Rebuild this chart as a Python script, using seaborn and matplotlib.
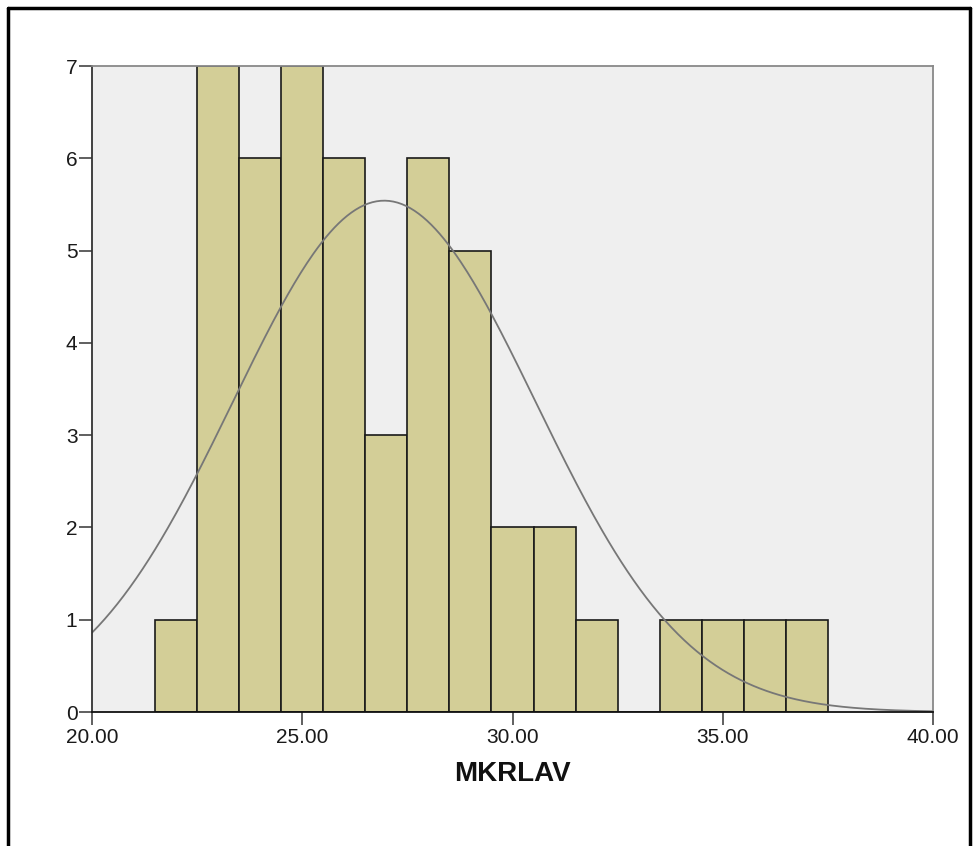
import numpy as np
import matplotlib.pyplot as plt
from matplotlib.lines import Line2D
import seaborn as sns

# histogram bins (width 1.0)
bin_centers = [22, 23, 24, 25, 26, 27, 28, 29, 30, 31, 32, 33, 34, 35, 36, 37]
counts = [1, 7, 6, 7, 6, 3, 6, 5, 2, 2, 1, 0, 1, 1, 1, 1]
x_ticks = [20, 25, 30, 35, 40]
x_tick_labels = ['20.00', '25.00', '30.00', '35.00', '40.00']
y_ticks = [0, 1, 2, 3, 4, 5, 6, 7]

# fitted normal curve
curve_mean = 26.95
curve_sd = 3.6
n_total = sum(counts)

sns.set_style('white')
plt.rcParams['font.family'] = ['Liberation Sans', 'DejaVu Sans']

fig = plt.figure(figsize=(9.77, 8.46), dpi=100)
ax = fig.add_axes([92/977, 1 - 712/846, (933 - 92)/977, (712 - 66)/846])
ax.set_facecolor('#efefef')

sns.histplot(x=bin_centers, weights=counts, binwidth=1, binrange=(21.5, 37.5),
             color='#d3ce97', alpha=1, edgecolor='#1a1a1a', linewidth=1.2, ax=ax)

xs = np.linspace(20, 40, 400)
ys = n_total * 1.0 / (curve_sd * np.sqrt(2 * np.pi)) * np.exp(-0.5 * ((xs - curve_mean) / curve_sd) ** 2)
sns.lineplot(x=xs, y=ys, color='#777777', linewidth=1.3, ax=ax)

ax.set_xlim(20, 40)
ax.set_ylim(0, 7)
ax.set_xticks(x_ticks)
ax.set_xticklabels(x_tick_labels)
ax.set_yticks(y_ticks)
ax.tick_params(axis='both', labelsize=15, length=9.5, width=1.2, color='#444444',
               labelcolor='#1a1a1a', bottom=True, left=True)
ax.tick_params(axis='x', pad=2)
ax.tick_params(axis='y', pad=1)
ax.set_xlabel('MKRLAV', size=20, fontweight='bold', labelpad=10, color='#111111')
ax.set_ylabel('')

ax.spines['left'].set_color('#333333')
ax.spines['bottom'].set_color('#111111')
ax.spines['top'].set_color('#888888')
ax.spines['right'].set_color('#888888')
for s in ax.spines.values():
    s.set_linewidth(1.3)

# outer frame (no bottom edge)
fx0, fx1, fy1 = 8/977, 970/977, 1 - 8/846
for xd, yd in [([fx0, fx0], [0, fy1]), ([fx0, fx1], [fy1, fy1]), ([fx1, fx1], [fy1, 0])]:
    fig.add_artist(Line2D(xd, yd, transform=fig.transFigure, color='black', linewidth=2.5))

fig.savefig('out.png', dpi=100)
